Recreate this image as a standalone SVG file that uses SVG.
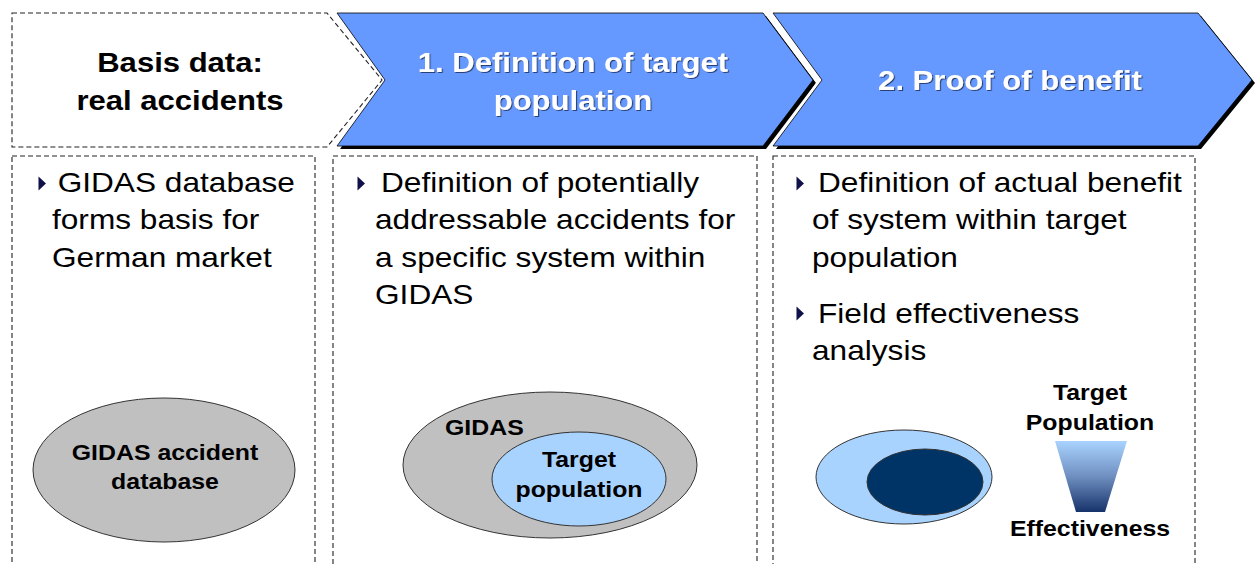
<svg xmlns="http://www.w3.org/2000/svg" width="1256" height="564" viewBox="0 0 1256 564">
<defs>
<style>
.hdrB{font-family:"Liberation Sans",Arial,sans-serif;font-weight:bold;font-size:27px;fill:#000;text-anchor:middle}
.hdrW{font-family:"Liberation Sans",Arial,sans-serif;font-weight:bold;font-size:27px;fill:#fff;text-anchor:middle;filter:url(#ts)}
.body{font-family:"Liberation Sans",Arial,sans-serif;font-size:28px;fill:#000}
.lbl{font-family:"Liberation Sans",Arial,sans-serif;font-weight:bold;font-size:22px;fill:#000}
.lblm{font-family:"Liberation Sans",Arial,sans-serif;font-weight:bold;font-size:22px;fill:#000;text-anchor:middle}
.box{fill:#fff;stroke:#222;stroke-width:1.1;stroke-dasharray:5,3}
.chev{fill:#6699FF;stroke:#000;stroke-width:0.8}
.shadow{fill:#000}
.bullet{fill:#10104a}
.ell{stroke:#333;stroke-width:1}
</style>
<filter id="ts" x="-5%" y="-20%" width="110%" height="140%">
<feDropShadow dx="1" dy="1" stdDeviation="0.6" flood-color="#1a2a55" flood-opacity="0.8"/>
</filter>
<linearGradient id="funnel" x1="0" y1="0" x2="0" y2="1">
<stop offset="0" stop-color="#A9D3FF"/>
<stop offset="0.5" stop-color="#6F8FC0"/>
<stop offset="1" stop-color="#17336B"/>
</linearGradient>
</defs>
<rect width="1256" height="564" fill="#fff"/>

<g id="header-basis">
<polygon class="box" points="12,13 327,13 382,80 327,147 12,147"/>
<text class="hdrB" transform="translate(180,72) scale(1.15,1)"><tspan x="0" y="0">Basis data:</tspan><tspan x="0" y="38">real accidents</tspan></text>
</g>

<g id="header-target">
<polygon class="shadow" points="340,16 766,16 816,83 766,149 340,149 388,83"/>
<polygon class="chev" points="337,13 763,13 813,80 763,146 337,146 385,80"/>
<text class="hdrW" transform="translate(573,72) scale(1.15,1)"><tspan x="0" y="0">1. Definition of target</tspan><tspan x="0" y="38">population</tspan></text>
</g>

<g id="header-benefit">
<polygon fill="#fff" points="769,11 1200,11 1254,80 1200,150 769,150 818,80"/>
<polygon class="shadow" points="776,16 1201,16 1255,83 1201,149 776,149 825,83"/>
<polygon class="chev" points="773,13 1198,13 1252,80 1198,146 773,146 822,80"/>
<text class="hdrW" transform="translate(1010,90) scale(1.15,1)">2. Proof of benefit</text>
</g>

<g id="col-basis">
<rect class="box" x="12" y="156" width="303" height="420"/>
<polygon class="bullet" points="38.5,176.5 46,183.5 38.5,190.5"/>
<text class="body" transform="translate(52,192) scale(1.13,1)"><tspan x="5" y="0">GIDAS database</tspan><tspan x="0" y="37.5">forms basis for</tspan><tspan x="0" y="75">German market</tspan></text>
</g>

<g id="col-target">
<rect class="box" x="333" y="156" width="424" height="420"/>
<polygon class="bullet" points="357.5,176.5 365,183.5 357.5,190.5"/>
<text class="body" transform="translate(375,192) scale(1.13,1)"><tspan x="5.3" y="0">Definition of potentially</tspan><tspan x="0" y="37.5">addressable accidents for</tspan><tspan x="0" y="75">a specific system within</tspan><tspan x="0" y="112.5">GIDAS</tspan></text>
</g>

<g id="col-benefit">
<rect class="box" x="773" y="156" width="422" height="420"/>
<polygon class="bullet" points="796.5,176.5 804,183.5 796.5,190.5"/>
<polygon class="bullet" points="796.5,306.5 804,313.5 796.5,320.5"/>
<text class="body" transform="translate(812,192) scale(1.13,1)"><tspan x="5.3" y="0">Definition of actual benefit</tspan><tspan x="0" y="37.5">of system within target</tspan><tspan x="0" y="75">population</tspan><tspan x="5.3" y="131">Field effectiveness</tspan><tspan x="0" y="168.5">analysis</tspan></text>
</g>

<g id="node-gidas-db">
<ellipse class="ell" cx="164" cy="470" rx="131" ry="72" fill="#C0C0C0"/>
<text class="lblm" transform="translate(165,460) scale(1.13,1)"><tspan x="0" y="0">GIDAS accident</tspan><tspan x="0" y="29">database</tspan></text>
</g>

<g id="node-gidas">
<ellipse class="ell" cx="550" cy="465" rx="147" ry="73" fill="#C0C0C0"/>
<text class="lbl" transform="translate(445,435) scale(1.13,1)">GIDAS</text>
</g>

<g id="node-target-pop">
<ellipse class="ell" cx="579" cy="479" rx="87" ry="47" fill="#A9D3FF"/>
<text class="lblm" transform="translate(579,467) scale(1.13,1)"><tspan x="0" y="0">Target</tspan><tspan x="0" y="30">population</tspan></text>
</g>

<g id="node-benefit-outer">
<ellipse class="ell" cx="904" cy="477" rx="88" ry="47" fill="#A9D3FF"/>
</g>
<g id="node-benefit-inner">
<ellipse class="ell" cx="925" cy="482" rx="58" ry="33" fill="#003366"/>
</g>

<g id="node-funnel">
<text class="lblm" transform="translate(1090,400) scale(1.13,1)"><tspan x="0" y="0">Target</tspan><tspan x="0" y="30">Population</tspan></text>
<polygon points="1055,441 1127,441 1105,512 1076,512" fill="url(#funnel)"/>
<text class="lblm" transform="translate(1090,536) scale(1.13,1)">Effectiveness</text>
</g>

<g id="connectors"></g>
</svg>
